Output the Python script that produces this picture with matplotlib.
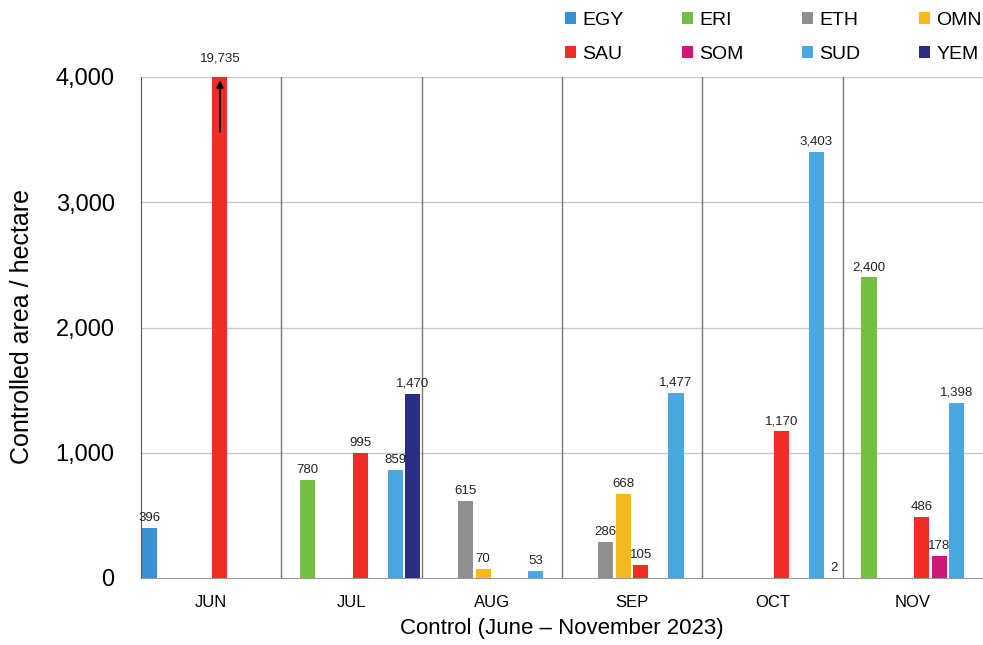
import matplotlib
matplotlib.use("Agg")
import matplotlib.pyplot as plt
import numpy as np

plt.rcParams["font.family"] = ["Liberation Sans", "DejaVu Sans"]

months = ["JUN", "JUL", "AUG", "SEP", "OCT", "NOV"]
countries = ["EGY", "ERI", "ETH", "OMN", "SAU", "SOM", "SUD", "YEM"]
colors = ["#3b8fd4", "#72bf44", "#8f8f8f", "#f6b81a", "#ee2e24", "#d0157a", "#4aa8e0", "#2a2d84"]

# values per country, per month (None = no bar)
EGY = [396, None, None, None, None, None]
ERI = [None, 780, None, None, None, 2400]
ETH = [None, None, 615, 286, None, None]
OMN = [None, None, 70, 668, None, None]
SAU = [19735, 995, None, 105, 1170, 486]
SOM = [None, None, None, None, None, 178]
SUD = [None, 859, 53, 1477, 3403, 1398]
YEM = [None, 1470, None, None, 2, None]
series = [EGY, ERI, ETH, OMN, SAU, SOM, SUD, YEM]

ymax = 4000
yticks = [0, 1000, 2000, 3000, 4000]

W, H = 983, 645
fig = plt.figure(figsize=(W / 100, H / 100), dpi=100)
ax = fig.add_axes([141 / W, 1 - 578 / H, 842 / W, 501 / H])

n = len(countries)
slot = 1.0 / n
width = slot * 0.86
handles = []
for i, (name, vals, col) in enumerate(zip(countries, series, colors)):
    xs, hs, labs = [], [], []
    for m, v in enumerate(vals):
        if v is None:
            continue
        xs.append(m + (i + 0.5) * slot)
        hs.append(min(v, ymax))
        labs.append(v)
    h = ax.bar(xs, hs, width=width, color=col, label=name, zorder=3)
    handles.append(h)
    for x, hh, v in zip(xs, hs, labs):
        off = 9 if v > ymax else 3
        ax.annotate(f"{v:,}", (x, hh), xytext=(0, off), textcoords="offset points",
                    ha="center", va="bottom", fontsize=9.5, color="#222222",
                    annotation_clip=False, zorder=5)
        if v > ymax:
            ax.annotate("", xy=(x, ymax * 0.999), xytext=(x, ymax * 0.885),
                        arrowprops=dict(arrowstyle="-|>", color="black", lw=1.3,
                                        mutation_scale=10), zorder=6)

ax.set_xlim(0, len(months))
ax.set_ylim(0, ymax)
ax.set_xticks(np.arange(len(months)) + 0.5)
ax.set_xticklabels(months, fontsize=12)
ax.set_yticks(yticks)
ax.set_yticklabels([f"{t:,}" for t in yticks], fontsize=17)
ax.tick_params(axis="y", length=0, pad=19)
ax.tick_params(axis="x", length=0, pad=12)

for yv in yticks[1:]:
    ax.axhline(yv, color="#c8c8c8", lw=1, zorder=1)
for k in range(1, len(months)):
    ax.axvline(k, color="#777777", lw=1, zorder=2)

for s in ["top", "right"]:
    ax.spines[s].set_visible(False)
ax.spines["left"].set_color("#555555")
ax.spines["bottom"].set_color("#999999")

fig.text(22 / W, 1 - 326 / H, "Controlled area / hectare", rotation=90,
         ha="center", va="center", fontsize=18)
ax.set_xlabel("Control (June – November 2023)", fontsize=16, labelpad=6)

# row-major legend order (matplotlib fills columns first)
order = [0, 4, 1, 5, 2, 6, 3, 7]
fig.legend([handles[k] for k in order], [countries[k] for k in order],
           loc="upper left", bbox_to_anchor=(547 / W, 1.0093), ncol=4, frameon=False,
           fontsize=14, handlelength=0.6, handleheight=0.6, handletextpad=0.3,
           columnspacing=3.0, labelspacing=0.9)

fig.savefig("out.png", dpi=100)
